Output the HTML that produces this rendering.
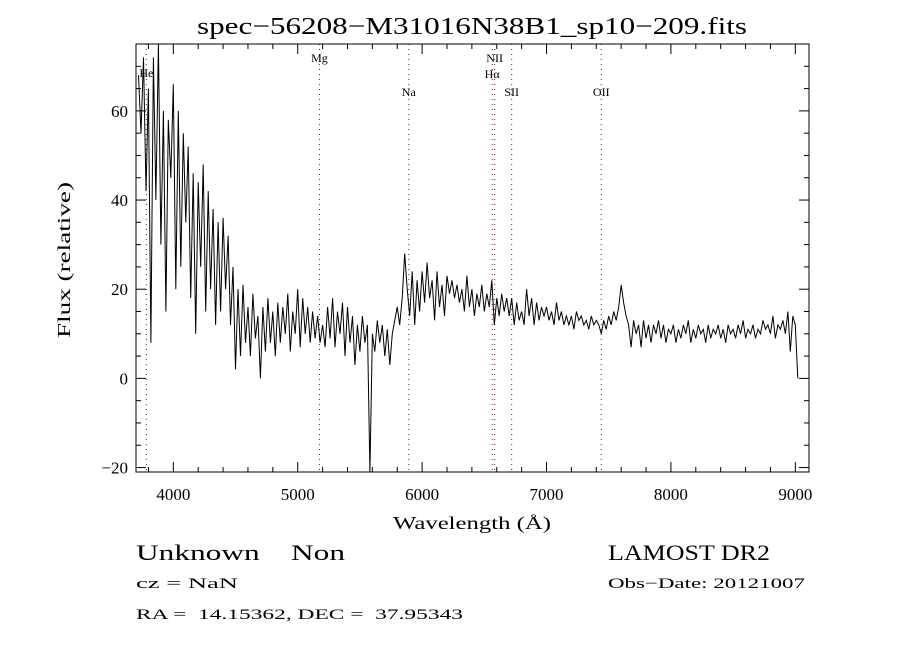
<!DOCTYPE html>
<html><head><meta charset="utf-8"><style>
body{margin:0;background:#fff;}
svg text{font-family:"Liberation Serif",serif;fill:#000;}
</style></head><body>
<svg id="chart" width="900" height="650" xmlns="http://www.w3.org/2000/svg">
<rect width="900" height="650" fill="#fff"/>
<text x="197" y="34" font-size="24" textLength="550" lengthAdjust="spacingAndGlyphs">spec−56208−M31016N38B1_sp10−209.fits</text>
<g id="lines"></g>
<g id="axes"></g>
<path id="spec" fill="none" stroke="#000" stroke-width="1"/>
<rect x="136" y="44" width="673" height="428" fill="none" stroke="#000" stroke-width="1"/>
<text x="393" y="529" font-size="18" textLength="158" lengthAdjust="spacingAndGlyphs">Wavelength (Å)</text>
<text x="70" y="338" font-size="18" textLength="156" lengthAdjust="spacingAndGlyphs" transform="rotate(-90 70 338)">Flux (relative)</text>
<text x="136" y="560" font-size="22" xml:space="preserve" textLength="209" lengthAdjust="spacingAndGlyphs">Unknown    Non</text>
<text x="136" y="588" font-size="15" textLength="102" lengthAdjust="spacingAndGlyphs">cz = NaN</text>
<text x="136" y="619" font-size="15" xml:space="preserve" textLength="327" lengthAdjust="spacingAndGlyphs">RA =  14.15362, DEC =  37.95343</text>
<text x="608" y="560" font-size="22" textLength="162" lengthAdjust="spacingAndGlyphs">LAMOST DR2</text>
<text x="608" y="588" font-size="15" textLength="197" lengthAdjust="spacingAndGlyphs">Obs−Date: 20121007</text>
</svg>
<script>
const wlStart = 3720, wlStep = 20;
const flux = [68,55,72,42,65,8,72,40,75,30,60,15,58,45,66,20,60,25,55,35,52,18,46,10,44,25,48,15,42,20,38,12,35,15,36,20,32,12,25,2,20,5,21,8,16,5,19,9,14,0,16,6,18,8,15,5,17,8,16,10,19,6,15,10,20,7,18,10,16,8,15,9,14,8,12,7,16,9,18,7,15,10,17,5,16,8,14,3,12,6,14,8,12,-21,10,6,13,8,12,5,11,3,10,13,16,12,18,28,20,14,24,12,22,15,24,17,26,18,22,13,24,16,21,14,23,19,22,18,21,17,20,15,23,16,20,14,19,16,21,15,19,16,22,12,18,14,19,15,18,14,18,12,17,13,15,12,20,14,18,12,17,13,16,14,16,13,15,12,17,13,15,12,14,12,14,11,15,13,14,12,13,11,14,12,13,12,10,13,11,14,12,15,13,16,21,17,14,12,7,13,10,12,7,13,9,12,8,12,10,13,9,12,8,11,10,12,8,11,9,12,10,13,8,11,9,12,10,11,8,12,9,11,10,12,9,11,8,12,10,11,9,12,10,13,9,11,10,12,9,11,10,13,11,12,10,14,9,12,11,13,10,15,6,14,12,0];
const xTicks = [4000,5000,6000,7000,8000,9000];
const yTicks = [-20,0,20,40,60];
const lineNames = ["He","Mg","Na","NII","Hα","SII","OII"];
const lineWl = [3783,5175,5893,6583,6563,6720,7440];
const lineLabelY = [77,62,96,62,78,96,96];
const X0=136,X1=809,Y0=44,Y1=472,xmin=3700,xmax=9110,ymin=-21,ymax=75;
const sx=w=>X0+(w-xmin)/(xmax-xmin)*(X1-X0);
const sy=v=>Y1-(v-ymin)/(ymax-ymin)*(Y1-Y0);
const NS="http://www.w3.org/2000/svg";
function mk(t,a,p){const e=document.createElementNS(NS,t);for(const k in a)e.setAttribute(k,a[k]);p.appendChild(e);return e;}
let d="";flux.forEach((v,i)=>{const y=Math.max(Y0,Math.min(Y1,sy(v)));d+=(i?"L":"M")+sx(wlStart+i*wlStep).toFixed(1)+","+y.toFixed(1);});
document.getElementById("spec").setAttribute("d",d);
const ax=document.getElementById("axes");
for(let w=3800;w<=9100;w+=200){const x=sx(w),L=(w%1000===0)?10:5;
 const t1=mk("line",{x1:x,x2:x,y1:Y1,y2:Y1-L,stroke:"#000"},ax);
 
 
 const t2=mk("line",{x1:x,x2:x,y1:Y0,y2:Y0+L,stroke:"#000"},ax);
 
 }
xTicks.forEach(w=>{const t=mk("text",{x:sx(w),y:500,"font-size":17,"text-anchor":"middle"},ax);t.textContent=w;
 
 });
for(let v=-20;v<=75;v+=5){const y=sy(v),L=(v%20===0)?10:5;
 const t1=mk("line",{x1:X0,x2:X0+L,y1:y,y2:y,stroke:"#000"},ax);
 
 
 const t2=mk("line",{x1:X1,x2:X1-L,y1:y,y2:y,stroke:"#000"},ax);
 
 }
yTicks.forEach(v=>{const t=mk("text",{x:128,y:sy(v)+6,"font-size":17,"text-anchor":"end"},ax);t.textContent=(v<0?"−"+(-v):v);
 
 });
const lg=document.getElementById("lines");
lineNames.forEach((n,i)=>{const x=sx(lineWl[i]);
 const l=mk("line",{x1:x,x2:x,y1:Y0,y2:Y1,stroke:"#6b2020","stroke-width":1,"stroke-dasharray":"1,4"},lg);
 
 
 const t=mk("text",{x:x,y:lineLabelY[i],"font-size":12,"text-anchor":"middle"},lg);t.textContent=n;
 
 });
</script>
</body></html>
